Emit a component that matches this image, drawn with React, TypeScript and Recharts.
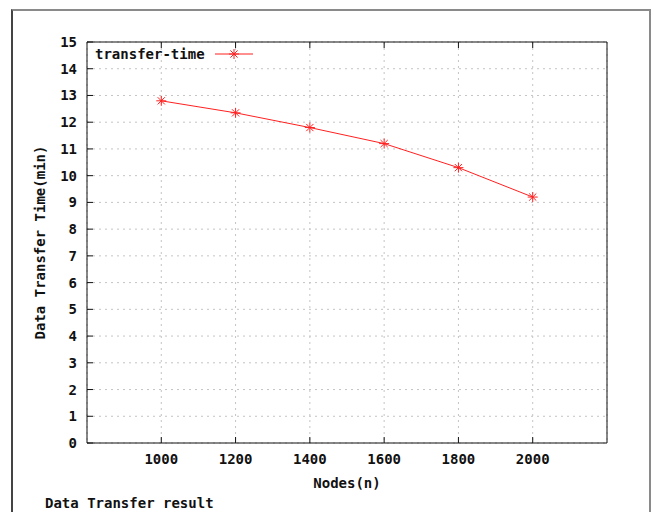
import React from "react";
import { LineChart, Line, XAxis, YAxis, CartesianGrid } from "recharts";

const nodes = [1000, 1200, 1400, 1600, 1800, 2000];
const transferTime = [12.8, 12.35, 11.8, 11.2, 10.3, 9.2];
const xTicks = [1000, 1200, 1400, 1600, 1800, 2000];
const yTicks = [0, 1, 2, 3, 4, 5, 6, 7, 8, 9, 10, 11, 12, 13, 14, 15];
const seriesName = "transfer-time";

const data = nodes.map((n, i) => ({ n, t: transferTime[i] }));

const FONT = "'DejaVu Sans Mono', monospace";
const RED = "#ff2020";
const INK = "#111";

function Star({ cx, cy, r = 5 }: { cx: number; cy: number; r?: number }) {
  const d = r * 0.72;
  return (
    <g stroke={RED} strokeWidth={1}>
      <line x1={cx - r} y1={cy} x2={cx + r} y2={cy} />
      <line x1={cx} y1={cy - r} x2={cx} y2={cy + r} />
      <line x1={cx - d} y1={cy - d} x2={cx + d} y2={cy + d} />
      <line x1={cx - d} y1={cy + d} x2={cx + d} y2={cy - d} />
    </g>
  );
}

const StarDot = (props: any) => {
  const { cx, cy, index } = props;
  if (cx == null || cy == null) return <g key={index} />;
  return <Star key={index} cx={cx} cy={cy} />;
};

const LeftTick = (props: any) => {
  const { x, y, payload } = props;
  return (
    <g>
      <line x1={x} y1={y} x2={x + 6} y2={y} stroke={INK} />
      <text x={x - 10} y={y + 5} textAnchor="end" fontFamily={FONT} fontWeight="bold" fontSize={14} fill={INK}>
        {payload.value}
      </text>
    </g>
  );
};

const RightTick = (props: any) => {
  const { x, y } = props;
  return <line x1={x} y1={y} x2={x - 6} y2={y} stroke={INK} />;
};

const BottomTick = (props: any) => {
  const { x, y, payload } = props;
  return (
    <g>
      <line x1={x} y1={y} x2={x} y2={y - 6} stroke={INK} />
      <text x={x} y={y + 21} textAnchor="middle" fontFamily={FONT} fontWeight="bold" fontSize={14} fill={INK}>
        {payload.value}
      </text>
    </g>
  );
};

const TopTick = (props: any) => {
  const { x, y } = props;
  return <line x1={x} y1={y} x2={x} y2={y + 6} stroke={INK} />;
};

export default function App() {
  return (
    <div style={{ position: "absolute", left: 0, top: 0, width: 654, height: 512, background: "#fff", overflow: "hidden" }}>
      <div
        style={{
          position: "absolute",
          left: 11,
          top: 9,
          width: 636,
          height: 520,
          borderTop: "2px solid #8a8a8a",
          borderLeft: "2px solid #444",
          borderRight: "2px solid #8a8a8a",
        }}
      />
      <LineChart
        width={654}
        height={512}
        data={data}
        margin={{ top: 41, right: 46, bottom: 39, left: 47 }}
        style={{ position: "absolute", left: 0, top: 0 }}
      >
        <CartesianGrid stroke="#c4c4c4" strokeDasharray="2 4" />
        <XAxis
          dataKey="n"
          type="number"
          domain={[800, 2200]}
          ticks={xTicks}
          height={30}
          tickSize={0}
          tickMargin={0}
          tick={<BottomTick />}
          axisLine={{ stroke: INK }}
          tickLine={false}
          interval={0}
          label={{
            content: (p: any) => (
              <text
                x={p.viewBox.x + p.viewBox.width / 2}
                y={p.viewBox.y + 45}
                textAnchor="middle"
                fontFamily={FONT}
                fontWeight="bold"
                fontSize={14}
                fill={INK}
              >
                Nodes(n)
              </text>
            ),
          }}
        />
        <XAxis
          xAxisId="top"
          orientation="top"
          dataKey="n"
          type="number"
          domain={[800, 2200]}
          ticks={xTicks}
          height={1}
          tickSize={0}
          tickMargin={0}
          tick={<TopTick />}
          axisLine={{ stroke: INK }}
          tickLine={false}
          interval={0}
        />
        <YAxis
          type="number"
          domain={[0, 15]}
          ticks={yTicks}
          width={40}
          tickSize={0}
          tickMargin={0}
          tick={<LeftTick />}
          axisLine={{ stroke: INK }}
          tickLine={false}
          interval={0}
          label={{
            content: (p: any) => {
              const cx = p.viewBox.x - 7;
              const cy = p.viewBox.y + p.viewBox.height / 2;
              return (
                <text
                  x={cx}
                  y={cy}
                  transform={`rotate(-90 ${cx} ${cy})`}
                  textAnchor="middle"
                  dominantBaseline="central"
                  fontFamily={FONT}
                  fontWeight="bold"
                  fontSize={14}
                  fill={INK}
                >
                  Data Transfer Time(min)
                </text>
              );
            },
          }}
        />
        <YAxis
          yAxisId="right"
          orientation="right"
          type="number"
          domain={[0, 15]}
          ticks={yTicks}
          width={1}
          tickSize={0}
          tickMargin={0}
          tick={<RightTick />}
          axisLine={{ stroke: INK }}
          tickLine={false}
          interval={0}
        />
        <Line
          dataKey="t"
          name={seriesName}
          stroke={RED}
          strokeWidth={1}
          dot={<StarDot />}
          activeDot={false}
          isAnimationActive={false}
        />
      </LineChart>
      <div
        style={{
          position: "absolute",
          left: 95,
          top: 45,
          display: "flex",
          alignItems: "center",
          fontFamily: FONT,
          fontWeight: "bold",
          fontSize: 14,
          color: INK,
          lineHeight: "18px",
        }}
      >
        <span>{seriesName}</span>
        <svg width={48} height={14} style={{ marginLeft: 8 }}>
          <line x1={2} y1={7} x2={40} y2={7} stroke={RED} />
          <Star cx={21} cy={7} />
        </svg>
      </div>
      <div
        style={{
          position: "absolute",
          left: 45,
          top: 494,
          fontFamily: FONT,
          fontWeight: "bold",
          fontSize: 14,
          color: INK,
          lineHeight: "18px",
        }}
      >
        Data Transfer result
      </div>
    </div>
  );
}
